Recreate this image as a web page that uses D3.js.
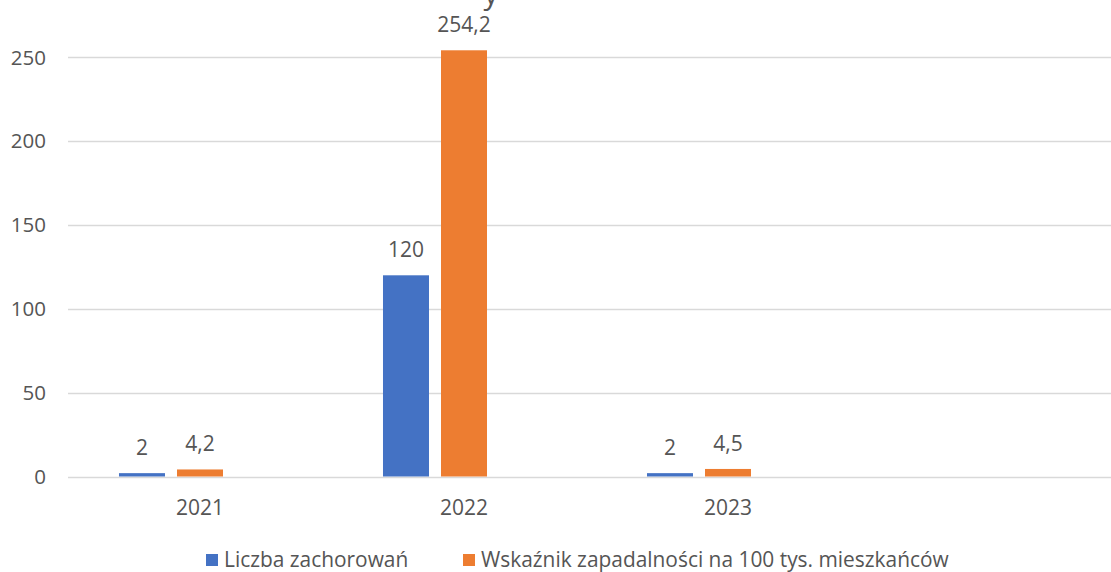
<!DOCTYPE html>
<html>
<head>
<meta charset="utf-8">
<script src="https://cdn.jsdelivr.net/npm/d3@7.9.0/dist/d3.min.js"></script>
<style>
  html, body { margin: 0; padding: 0; background: #fff; overflow: hidden; }
  svg { display: block; font-family: "Open Sans", "Noto Sans", sans-serif; }
</style>
</head>
<body>
<svg id="chart" width="1111" height="572"></svg>
<script>
// categories (4th slot is empty in the source chart)
const years = ['2021', '2022', '2023', ''];
const cases = [2, 120, 2, null];
const incidence = [4.2, 254.2, 4.5, null];
const seriesNames = ['Liczba zachorowań', 'Wskaźnik zapadalności na 100 tys. mieszkańców'];
const seriesColors = ['#4472C4', '#ED7D31'];
const yTicks = [0, 50, 100, 150, 200, 250];
// third slot in each group is unused in the original chart
const slots = ['cases', 'incidence', 'unused'];

const svg = d3.select('#chart');
const textColor = '#555555';

const x = d3.scaleBand().domain(years).range([68, 1124]).padding(0);
const x1 = d3.scaleBand().domain(slots).range([0, x.bandwidth()]).paddingInner(0.207).paddingOuter(0.879);
const y = d3.scaleLinear().domain([0, 300]).range([476.5, -26.5]);

// cut-off title descender visible at the top
svg.append('text')
  .attr('x', 491).attr('y', 4)
  .attr('text-anchor', 'middle')
  .attr('font-size', 30)
  .attr('fill', textColor)
  .text('y');

// gridlines
svg.append('g')
  .selectAll('line')
  .data(yTicks)
  .join('line')
  .attr('x1', 68).attr('x2', 1111)
  .attr('y1', d => Math.round(y(d)) + 0.5)
  .attr('y2', d => Math.round(y(d)) + 0.5)
  .attr('stroke', '#D9D9D9')
  .attr('stroke-width', 1.3);

// y tick labels
svg.append('g')
  .selectAll('text')
  .data(yTicks)
  .join('text')
  .attr('x', 46)
  .attr('y', d => y(d))
  .attr('dy', '0.35em')
  .attr('text-anchor', 'end')
  .attr('font-size', 20.5)
  .attr('fill', textColor)
  .text(d => d);

// x labels
svg.append('g')
  .selectAll('text')
  .data(years)
  .join('text')
  .attr('x', d => x(d) + x.bandwidth() / 2)
  .attr('y', 515)
  .attr('text-anchor', 'middle')
  .attr('font-size', 21)
  .attr('fill', textColor)
  .text(d => d);

const fmt = v => String(v).replace('.', ',');

const series = [
  { key: 'cases', values: cases, color: seriesColors[0] },
  { key: 'incidence', values: incidence, color: seriesColors[1] }
];

series.forEach(s => {
  const pts = years.map((yr, i) => ({ yr, v: s.values[i] })).filter(d => d.v != null);
  const g = svg.append('g');
  g.selectAll('rect')
    .data(pts)
    .join('rect')
    .attr('x', d => x(d.yr) + x1(s.key))
    .attr('width', x1.bandwidth())
    .attr('y', d => y(d.v))
    .attr('height', d => y(0) - y(d.v))
    .attr('fill', s.color);
  g.selectAll('text')
    .data(pts)
    .join('text')
    .attr('x', d => x(d.yr) + x1(s.key) + x1.bandwidth() / 2)
    .attr('y', d => y(d.v) - 18)
    .attr('text-anchor', 'middle')
    .attr('font-size', 21)
    .attr('fill', textColor)
    .text(d => fmt(d.v));
});

// legend
const legendItems = [
  { name: seriesNames[0], color: seriesColors[0], x: 206 },
  { name: seriesNames[1], color: seriesColors[1], x: 463 }
];
const lg = svg.append('g');
legendItems.forEach(it => {
  lg.append('rect')
    .attr('x', it.x).attr('y', 554)
    .attr('width', 12).attr('height', 12)
    .attr('fill', it.color);
  lg.append('text')
    .attr('x', it.x + 18).attr('y', 567)
    .attr('font-size', 20.9)
    .attr('fill', textColor)
    .text(it.name);
});
</script>
</body>
</html>
